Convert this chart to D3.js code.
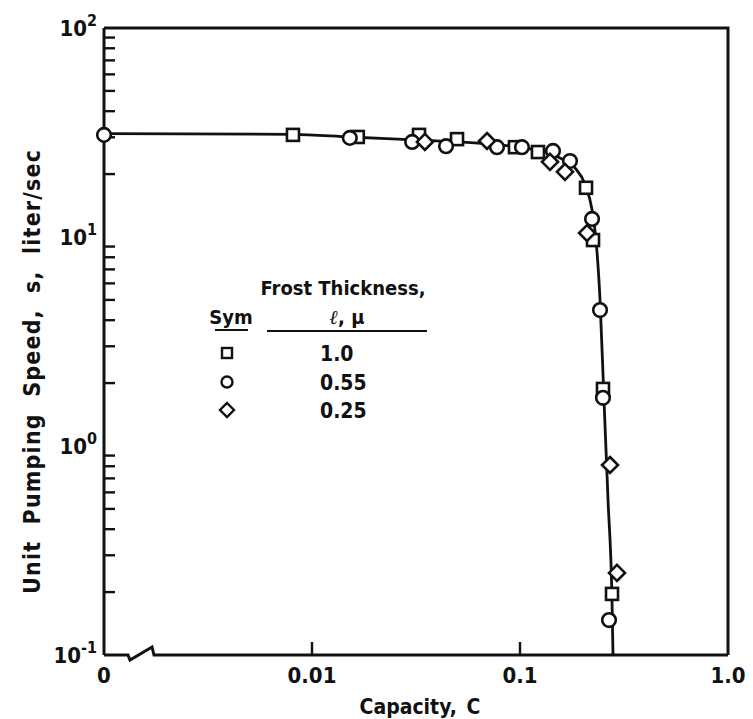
<!DOCTYPE html>
<html><head><meta charset="utf-8">
<script src="https://cdn.jsdelivr.net/npm/d3@7"></script>
<style>
html,body{margin:0;padding:0;background:#fff;}
text{font-family:"DejaVu Sans","Liberation Sans",Arial,sans-serif;font-stretch:condensed;font-weight:bold;fill:#111;}
</style></head>
<body>
<svg id="chart" width="753" height="719"></svg>
<script>
// ---- data ----
const xTickValues = [0.001, 0.01, 0.1, 1.0];
const xTickLabels = ["0", "0.01", "0.1", "1.0"];
const yTickValues = [100, 10, 1, 0.1];
const yTickExponents = ["2", "1", "0", "-1"];

// Frost thickness 1.0 micron (squares)
const squares = [[0.0081,30.8],[0.0166,30.1],[0.0327,30.8],[0.0498,29.4],[0.0946,26.9],[0.122,25.5],[0.2077,17.2],[0.2244,9.67],[0.2506,1.875],[0.2769,0.196]];
// Frost thickness 0.55 micron (circles)
const circles = [[0.001,30.8],[0.0152,29.8],[0.0303,28.5],[0.0441,27.2],[0.0775,26.9],[0.1022,26.9],[0.1441,25.8],[0.1739,23.1],[0.222,12.2],[0.2425,4.47],[0.2506,1.70],[0.2679,0.147]];
// Frost thickness 0.25 micron (diamonds)
const diamonds = [[0.0349,28.5],[0.0694,28.8],[0.1394,22.9],[0.1645,20.5],[0.21,10.45],[0.2708,0.811],[0.2926,0.247]];
// faired curve
const curve = [[0.001,31.2],[0.0081,31.0],[0.0152,30.1],[0.0331,29.1],[0.0515,28.5],[0.0801,27.6],[0.1,26.9],[0.1248,25.8],[0.1557,23.9],[0.1838,21.4],[0.2053,17.9],[0.222,13.5],[0.232,9.67],[0.2425,5.0],[0.2534,1.66],[0.265,0.551],[0.2769,0.183],[0.28,0.1]];
const legendLabels = ["1.0", "0.55", "0.25"];

// ---- drawing ----
const svg = d3.select("#chart");
const x = d3.scaleLog().domain([0.001, 1]).range([104, 728]);
const y = d3.scaleLog().domain([0.1, 100]).range([655, 28]);
const sw = 2.6;

// frame (top, right, left)
const fr = svg.append("g").attr("stroke", "#111").attr("stroke-width", 3).attr("fill", "none");
fr.append("path").attr("d", `M${x(0.001)},${y(100)}H${x(1)}V${y(0.1)}`);
fr.append("line").attr("x1", x(0.001)).attr("x2", x(0.001)).attr("y1", y(100)).attr("y2", y(0.1));
// bottom with axis break
const yb = y(0.1);
fr.append("path").attr("d", `M${x(0.001)},${yb}H128l2,5L152,${yb-8}l2,8H${x(1)}`);

// y ticks: inward on left axis, minor 2..9
const yTicks = [];
for (let e = -1; e < 2; e++) for (let m = 1; m < 10; m++) { if (m > 1) yTicks.push(m * Math.pow(10, e)); }
svg.append("g").selectAll("line").data(yTicks).join("line")
  .attr("x1", x(0.001)).attr("x2", x(0.001) + 11)
  .attr("y1", d => y(d)).attr("y2", d => y(d))
  .attr("stroke", "#111").attr("stroke-width", 2.4);
// x major ticks
svg.append("g").selectAll("line").data([0.01, 0.1]).join("line")
  .attr("x1", d => x(d)).attr("x2", d => x(d))
  .attr("y1", yb).attr("y2", yb - 13)
  .attr("stroke", "#111").attr("stroke-width", 2.4);

// x tick labels
svg.append("g").selectAll("text").data(xTickValues).join("text")
  .attr("x", d => x(d)).attr("y", 683).attr("text-anchor", "middle")
  .attr("font-size", 22).text((d, i) => xTickLabels[i]);

// y tick labels with superscript
const yl = svg.append("g").selectAll("text").data(yTickValues).join("text")
  .attr("x", 97).attr("y", d => y(d) + 8).attr("text-anchor", "end").attr("font-size", 22);
yl.append("tspan").text("10");
yl.append("tspan").attr("dy", -10).attr("font-size", 16).text((d, i) => yTickExponents[i]);

// axis titles
svg.append("text").attr("x", 420).attr("y", 714).attr("text-anchor", "middle")
  .attr("font-size", 21).attr("word-spacing", 3).text("Capacity, C");
svg.append("text").attr("transform", "translate(40,372) rotate(-90)").attr("text-anchor", "middle")
  .attr("font-size", 23).attr("word-spacing", 8)
  .attr("textLength", 444).attr("lengthAdjust", "spacing")
  .text("Unit Pumping Speed, s, liter/sec");

// curve
svg.append("path").datum(curve)
  .attr("d", d3.line().x(d => x(d[0])).y(d => y(d[1])).curve(d3.curveMonotoneX))
  .attr("fill", "none").attr("stroke", "#111").attr("stroke-width", 2.8);

// markers
const g = svg.append("g").attr("fill", "#fff").attr("stroke", "#111").attr("stroke-width", sw);
g.selectAll("rect.sq").data(squares).join("rect").attr("class", "sq")
  .attr("x", d => x(d[0]) - 6).attr("y", d => y(d[1]) - 6).attr("width", 12).attr("height", 12);
g.selectAll("circle").data(circles).join("circle")
  .attr("cx", d => x(d[0])).attr("cy", d => y(d[1])).attr("r", 6.8);
g.selectAll("path.dm").data(diamonds).join("path").attr("class", "dm")
  .attr("d", d => { const cx = x(d[0]), cy = y(d[1]), r = 8; return `M${cx},${cy-r}L${cx+r},${cy}L${cx},${cy+r}L${cx-r},${cy}Z`; });

// legend
const lg = svg.append("g");
lg.append("text").attr("x", 343).attr("y", 295).attr("text-anchor", "middle").attr("font-size", 20).text("Frost Thickness,");
lg.append("text").attr("x", 231).attr("y", 324).attr("text-anchor", "middle").attr("font-size", 20).text("Sym");
lg.append("line").attr("x1", 215).attr("x2", 248).attr("y1", 330).attr("y2", 330).attr("stroke", "#111").attr("stroke-width", 2);
lg.append("text").attr("x", 347).attr("y", 324).attr("text-anchor", "middle").attr("font-size", 20)
  .html('<tspan font-style="italic" font-family="DejaVu Serif">ℓ</tspan>, μ');
lg.append("line").attr("x1", 267).attr("x2", 427).attr("y1", 331).attr("y2", 331).attr("stroke", "#111").attr("stroke-width", 2);
const rows = [353, 382, 410];
lg.selectAll("text.val").data(legendLabels).join("text").attr("class", "val")
  .attr("x", 320).attr("y", (d, i) => rows[i] + 8).attr("font-size", 21).text(d => d);
const lm = lg.append("g").attr("fill", "#fff").attr("stroke", "#111").attr("stroke-width", 2.4);
lm.append("rect").attr("x", 222).attr("y", rows[0] - 5).attr("width", 10).attr("height", 10);
lm.append("circle").attr("cx", 227).attr("cy", rows[1]).attr("r", 5.5);
lm.append("path").attr("d", `M227,${rows[2]-7}L234,${rows[2]}L227,${rows[2]+7}L220,${rows[2]}Z`);
</script>
</body></html>
